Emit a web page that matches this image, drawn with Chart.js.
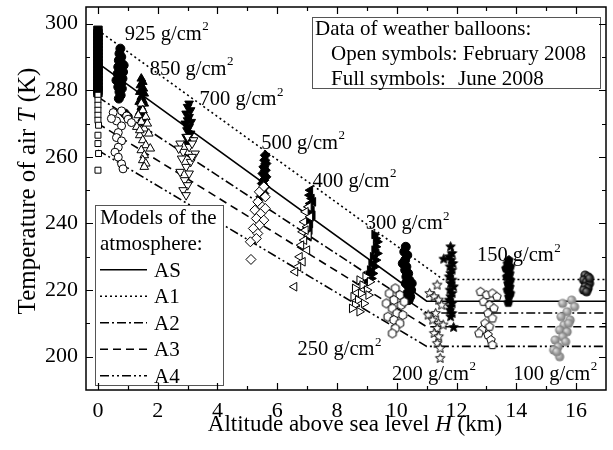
<!DOCTYPE html>
<html>
<head>
<meta charset="utf-8">
<script src="https://cdn.jsdelivr.net/npm/chart.js@4.4.1/dist/chart.umd.min.js"></script>
<style>
  html, body { margin: 0; padding: 0; background: #fff; }
</style>
</head>
<body>
<canvas id="chart" width="613" height="450"></canvas>
<script>
// atmosphere models, vertices [H km, T K]
const modelAS = [[0, 288.15], [11, 216.65], [17, 216.65]];
const modelA1 = [[0, 298], [11.55, 223.2], [17, 223.2]];
const modelA2 = [[0, 278], [11, 213.1], [17, 213.1]];
const modelA3 = [[0, 270], [11, 209], [17, 209]];
const modelA4 = [[0, 262], [11, 203.1], [17, 203.1]];

// balloon soundings [H km, T K]; feb = open symbols, jun = full symbols
const febSurface = [[0, 278.5], [0, 277], [0, 275.5], [0, 274], [0, 272.5], [0, 271], [0.02, 269.5], [0, 266.5], [0, 264], [0.02, 261], [0, 256]];
const junSurface = [[0, 298], [0, 297], [0, 296], [0, 295], [0, 294], [0, 293], [0, 292], [0, 291], [0, 290], [0, 289], [0, 288], [0, 287], [0, 286], [0, 285], [0, 284], [0, 283], [0, 282], [0, 281], [0, 280], [0, 279.3]];
const feb925 = [[0.51, 273.3], [0.79, 273.8], [0.96, 272.3], [0.62, 270.8], [0.79, 269.3], [0.68, 267.3], [0.62, 265.8], [0.79, 264.8], [0.68, 262.9], [0.57, 261.4], [0.68, 259.9], [0.79, 257.9], [0.84, 256.4], [1.01, 271.3], [1.12, 270.3], [0.45, 271.5]];
const jun925 = [[0.75, 292.5], [0.72, 291], [0.78, 290], [0.7, 289], [0.8, 288], [0.68, 287], [0.76, 286.5], [0.84, 285.5], [0.66, 285], [0.74, 284], [0.82, 283.5], [0.7, 282.5], [0.78, 282], [0.68, 281], [0.8, 280.5], [0.72, 279.5], [0.76, 278.5], [0.7, 277.5], [0.86, 287.5], [0.62, 283], [0.9, 273], [1.0, 272]];
const feb850 = [[1.45, 276], [1.5, 274], [1.35, 272.5], [1.6, 272], [1.45, 270.5], [1.3, 269], [1.55, 268.5], [1.7, 267], [1.4, 266.5], [1.5, 265], [1.6, 263.5], [1.75, 262.5], [1.45, 262], [1.55, 260.5], [1.5, 259], [1.6, 258], [1.55, 257], [1.4, 268], [1.65, 270]];
const jun850 = [[1.45, 283.5], [1.5, 282.5], [1.42, 281.5], [1.52, 280.5], [1.4, 279.5], [1.55, 279], [1.45, 278], [1.5, 277], [1.38, 276.5], [1.55, 276], [1.45, 275], [1.5, 274], [1.4, 273.5], [1.55, 272.5], [1.48, 271.5]];
const feb700 = [[3.0, 266], [3.2, 265], [2.75, 264], [3.05, 263], [2.85, 261.5], [3.25, 261], [2.8, 259.5], [3.1, 258.5], [2.95, 257], [2.75, 255.5], [3.05, 255], [2.9, 253], [3.0, 251.5], [2.85, 250], [2.95, 248.5], [3.15, 260], [2.7, 262.5], [3.15, 264]];
const jun700 = [[3.05, 276], [3.0, 275], [3.1, 274], [2.95, 273], [3.05, 272], [3.0, 271], [3.12, 270.5], [2.92, 270], [3.05, 269], [2.98, 268], [3.1, 267], [2.95, 266], [3.05, 265], [3.0, 264]];
const feb500 = [[5.55, 251], [5.4, 249.5], [5.6, 248], [5.35, 246.5], [5.5, 245], [5.25, 244], [5.45, 243], [5.3, 241.5], [5.55, 241], [5.4, 239.5], [5.2, 238.5], [5.35, 237], [5.3, 235.5], [5.1, 234.5], [5.12, 229.2], [5.6, 244.5]];
const jun500 = [[5.6, 260.5], [5.58, 259], [5.62, 258], [5.55, 257], [5.6, 256], [5.52, 255], [5.62, 254], [5.55, 253], [5.5, 252], [5.58, 251], [5.48, 250], [5.55, 249], [5.45, 248]];
const feb400 = [[7.05, 245], [6.95, 243.5], [7.1, 242], [6.9, 240.5], [7.0, 239], [6.85, 237.5], [7.05, 236.5], [6.9, 235], [6.8, 233.5], [7.0, 232], [6.75, 230], [6.85, 228.5], [6.7, 227], [6.6, 225.5], [6.57, 221], [6.95, 238]];
const jun400 = [[7.1, 250], [7.08, 248.5], [7.15, 247.5], [7.1, 246], [7.05, 245], [7.15, 244], [7.08, 243], [7.12, 242], [7.05, 241], [7.1, 240], [7.02, 239], [7.08, 238], [7.0, 237], [7.05, 236], [7.2, 246.5], [7.18, 242.5], [7.0, 240.5]];
const feb300 = [[8.95, 224], [8.75, 223], [9.1, 222.5], [8.85, 221.5], [8.6, 220.5], [9.0, 220], [8.8, 219], [8.55, 218], [8.7, 217], [8.9, 216], [8.6, 215.5], [8.5, 214.5], [9.05, 218.5], [8.75, 213.5]];
const jun300 = [[9.25, 236.7], [9.35, 234.5], [9.3, 233], [9.25, 232], [9.35, 231], [9.2, 230], [9.3, 229], [9.15, 228], [9.25, 227], [9.1, 226], [9.2, 225], [9.05, 224.5], [9.15, 223.5], [9.0, 223], [9.3, 235.5]];
const feb250 = [[9.95, 220.5], [9.75, 219], [10.1, 218.5], [9.9, 217], [9.65, 216], [10.15, 215.5], [9.85, 214.5], [10.0, 213], [9.7, 212], [10.2, 212.5], [9.9, 211], [10.1, 210], [9.95, 208.5], [9.85, 207], [10.25, 216.5]];
const jun250 = [[10.3, 233], [10.25, 231.5], [10.35, 230.5], [10.28, 229], [10.2, 228], [10.32, 227], [10.28, 226], [10.38, 225], [10.32, 224], [10.42, 223], [10.3, 222], [10.4, 221], [10.48, 220], [10.35, 219], [10.45, 218], [10.4, 217], [10.5, 222]];
const feb200 = [[11.35, 221.5], [11.1, 219], [11.25, 218], [11.4, 217], [11.5, 215.5], [11.3, 213], [11.05, 212.5], [11.2, 211], [11.4, 210], [11.35, 208.5], [11.55, 209.5], [11.25, 207], [11.4, 206], [11.35, 204], [11.45, 202.5], [11.45, 199.5]];
const jun200 = [[11.8, 233], [11.85, 231], [11.75, 230], [11.82, 229], [11.88, 228], [11.78, 227], [11.85, 226], [11.8, 225], [11.75, 224], [11.85, 223], [11.8, 222], [11.9, 221], [11.78, 220], [11.85, 219], [11.8, 218], [11.75, 217], [11.85, 216], [11.8, 215], [11.78, 214], [11.85, 213], [11.8, 212], [11.57, 229.3], [11.9, 208.8]];
const feb150 = [[12.8, 219.5], [13.0, 218.5], [13.2, 219], [13.35, 218], [12.9, 216.5], [13.1, 215.5], [13.25, 214.5], [13.05, 213], [13.2, 211.5], [12.95, 210], [13.1, 209], [12.85, 208], [13.05, 206.5], [13.15, 205], [13.2, 203.5], [12.75, 207]];
const jun150 = [[13.75, 229], [13.7, 228], [13.8, 227], [13.72, 226], [13.78, 225], [13.68, 224], [13.8, 223], [13.72, 222], [13.78, 221], [13.7, 220], [13.8, 219], [13.75, 218], [13.65, 226.5], [13.73, 216.2]];
const feb100 = [[15.85, 217], [15.55, 216], [15.95, 215], [15.7, 213.5], [15.5, 212], [15.8, 211], [15.6, 209.5], [15.45, 208], [15.7, 207.5], [15.55, 206], [15.3, 205], [15.65, 204.5], [15.4, 203], [15.25, 202], [15.45, 200], [15.35, 201.5], [15.75, 210]];
const jun100 = [[16.3, 224.5], [16.4, 224], [16.25, 223], [16.35, 222.5], [16.45, 222], [16.3, 221], [16.4, 220.5], [16.25, 220], [16.35, 219.5], [16.45, 223.5]];

// pressure level labels and where they sit (H km, T K at text middle)
const levelNames = ['925', '850', '700', '500', '400', '300', '150', '250', '200', '100'];
const levelLabelH = [0.9, 1.73, 3.4, 5.46, 7.18, 8.96, 12.68, 6.68, 9.84, 13.9];
const levelLabelT = [297.3, 286.8, 277.6, 264.6, 253.2, 240.3, 230.9, 202.5, 195.2, 195.2];

const modelNames = ['AS', 'A1', 'A2', 'A3', 'A4'];
const modelDash = [[], [2, 3], [9, 3, 2, 3], [8, 5], [9, 3, 2, 3, 2, 3]];

const FONT = '"Liberation Serif", "Times New Roman", serif';

function pts(arr) {
  return arr.map(p => ({ x: p[0], y: p[1] }));
}

function polyImage(n, r, filled, rot) {
  const c = document.createElement('canvas');
  const s = Math.ceil(r * 2 + 3);
  c.width = c.height = s;
  const g = c.getContext('2d');
  g.translate(s / 2, s / 2);
  g.beginPath();
  for (let i = 0; i < n; i++) {
    const a = rot + i * 2 * Math.PI / n - Math.PI / 2;
    g.lineTo(r * Math.cos(a), r * Math.sin(a));
  }
  g.closePath();
  g.fillStyle = filled ? '#000' : '#fff';
  g.fill();
  g.lineWidth = 1;
  g.strokeStyle = '#000';
  g.stroke();
  return c;
}

function starImage(r, filled) {
  const c = document.createElement('canvas');
  const s = Math.ceil(r * 2 + 3);
  c.width = c.height = s;
  const g = c.getContext('2d');
  g.translate(s / 2, s / 2);
  g.beginPath();
  for (let i = 0; i < 10; i++) {
    const rr = i % 2 ? r * 0.45 : r;
    const a = i * Math.PI / 5 - Math.PI / 2;
    g.lineTo(rr * Math.cos(a), rr * Math.sin(a));
  }
  g.closePath();
  g.fillStyle = filled ? '#000' : '#fff';
  g.fill();
  g.lineWidth = 1;
  g.strokeStyle = '#000';
  g.stroke();
  return c;
}

function sphereImage(r, light, base, dark) {
  const c = document.createElement('canvas');
  const s = Math.ceil(r * 2 + 2);
  c.width = c.height = s;
  const g = c.getContext('2d');
  const m = s / 2;
  const grad = g.createRadialGradient(m - r * 0.35, m - r * 0.35, 0.5, m, m, r);
  grad.addColorStop(0, light);
  grad.addColorStop(0.6, base);
  grad.addColorStop(1, dark);
  g.beginPath();
  g.arc(m, m, r, 0, Math.PI * 2);
  g.fillStyle = grad;
  g.fill();
  return c;
}

function pointSet(data, style, filled, radius, rotation) {
  return {
    data: pts(data),
    pointStyle: style,
    pointRadius: radius,
    pointRotation: rotation || 0,
    pointBackgroundColor: filled ? '#000' : '#fff',
    pointBorderColor: '#000',
    pointBorderWidth: 1,
    showLine: false,
    order: 0,
  };
}

const models = [modelAS, modelA1, modelA2, modelA3, modelA4];
const lineSets = models.map((m, i) => ({
  label: modelNames[i],
  data: pts(m),
  showLine: true,
  borderColor: '#000',
  borderWidth: 1.6,
  borderDash: modelDash[i],
  pointRadius: 0,
  fill: false,
  order: 1,
}));

const hexOpen = polyImage(6, 4.5, false, 0);
const pentOpen = polyImage(5, 4.5, false, 0);
const pentFull = polyImage(5, 4.5, true, 0);
const starOpen = starImage(5, false);
const starFull = starImage(5, true);
const sphereGray = sphereImage(4.6, '#dddddd', '#9a9a9a', '#7a7a7a');
const sphereDark = sphereImage(4.6, '#888', '#222', '#000');

const pointSets = [
  pointSet(febSurface, 'rect', false, 4.2),
  pointSet(junSurface, 'rect', true, 6),
  pointSet(feb925, 'circle', false, 4),
  pointSet(jun925, 'circle', true, 4.5),
  pointSet(feb850, 'triangle', false, 5),
  pointSet(jun850, 'triangle', true, 5),
  pointSet(feb700, 'triangle', false, 5, 180),
  pointSet(jun700, 'triangle', true, 5, 180),
  pointSet(feb500, 'rectRot', false, 5),
  pointSet(jun500, 'rectRot', true, 5),
  pointSet(feb400, 'triangle', false, 5, 270),
  pointSet(jun400, 'triangle', true, 5, 270),
  pointSet(feb300, 'triangle', false, 5, 90),
  pointSet(jun300, 'triangle', true, 5, 90),
  pointSet(feb250, hexOpen, false, 5),
  pointSet(jun250, 'circle', true, 4.5),
  pointSet(feb200, starOpen, false, 5),
  pointSet(jun200, starFull, true, 5),
  pointSet(feb150, pentOpen, false, 5),
  pointSet(jun150, pentFull, true, 5),
  pointSet(feb100, sphereGray, false, 5),
  pointSet(jun100, sphereDark, true, 5),
];

function drawSup(ctx, text, x, y, size) {
  ctx.font = `${size}px ${FONT}`;
  ctx.fillText(text, x, y);
  const w = ctx.measureText(text).width;
  ctx.font = `${Math.round(size * 0.62)}px ${FONT}`;
  ctx.fillText('2', x + w + 0.5, y - size * 0.45);
}

function drawParts(ctx, parts, x, y, size) {
  let cx = x;
  parts.forEach(p => {
    ctx.font = `${p.italic ? 'italic ' : ''}${size}px ${FONT}`;
    ctx.fillText(p.t, cx, y);
    cx += ctx.measureText(p.t).width;
  });
  return cx - x;
}

function partsWidth(ctx, parts, size) {
  let w = 0;
  parts.forEach(p => {
    ctx.font = `${p.italic ? 'italic ' : ''}${size}px ${FONT}`;
    w += ctx.measureText(p.t).width;
  });
  return w;
}

const decor = {
  id: 'decor',
  afterDatasetsDraw(chart) {
    const { ctx, scales: { x, y } } = chart;
    ctx.save();
    ctx.fillStyle = '#000';
    ctx.textBaseline = 'alphabetic';
    ctx.textAlign = 'left';
    levelNames.forEach((name, i) => {
      const px = x.getPixelForValue(levelLabelH[i]);
      const py = y.getPixelForValue(levelLabelT[i]) + 7;
      drawSup(ctx, name + ' g/cm', px, py, 20.5);
    });

    // balloon data note
    ctx.fillStyle = '#fff';
    ctx.fillRect(312.5, 17.5, 288, 71);
    ctx.strokeStyle = '#555';
    ctx.lineWidth = 1;
    ctx.strokeRect(312.5, 17.5, 288, 71);
    ctx.fillStyle = '#000';
    ctx.font = `21px ${FONT}`;
    ctx.fillText('Data of weather balloons:', 315, 35);
    ctx.fillText('Open symbols: February 2008', 331, 60);
    ctx.fillText('Full symbols:', 331, 85);
    ctx.fillText('June 2008', 458, 85);

    // model legend
    ctx.fillStyle = '#fff';
    ctx.fillRect(95.5, 205.5, 128, 180);
    ctx.strokeStyle = '#555';
    ctx.strokeRect(95.5, 205.5, 128, 180);
    ctx.fillStyle = '#000';
    ctx.fillText('Models of the', 100, 224);
    ctx.fillText('atmosphere:', 100, 250);
    modelNames.forEach((name, i) => {
      const base = 276.7 + i * 26.5;
      ctx.fillText(name, 154, base);
      ctx.save();
      ctx.strokeStyle = '#000';
      ctx.lineWidth = 1.6;
      ctx.setLineDash(modelDash[i]);
      ctx.beginPath();
      ctx.moveTo(100, base - 7);
      ctx.lineTo(147, base - 7);
      ctx.stroke();
      ctx.restore();
    });
    ctx.restore();
  },
  afterDraw(chart) {
    const { ctx, chartArea: a, scales: { x, y } } = chart;
    ctx.save();
    ctx.strokeStyle = '#000';
    ctx.lineWidth = 1.5;
    ctx.strokeRect(a.left, a.top, a.right - a.left, a.bottom - a.top);
    ctx.lineWidth = 1.2;
    ctx.beginPath();
    x.ticks.forEach(t => {
      if (!Number.isInteger(t.value) || t.value <= x.min || t.value >= x.max) return;
      const len = t.value % 2 === 0 ? 7 : 4;
      const px = Math.round(x.getPixelForValue(t.value)) + 0.5;
      ctx.moveTo(px, a.bottom); ctx.lineTo(px, a.bottom - len);
      ctx.moveTo(px, a.top); ctx.lineTo(px, a.top + len);
    });
    y.ticks.forEach(t => {
      if (t.value % 10 !== 0 || t.value <= y.min || t.value >= y.max) return;
      const len = t.value % 20 === 0 ? 7 : 4;
      const py = Math.round(y.getPixelForValue(t.value)) + 0.5;
      ctx.moveTo(a.left, py); ctx.lineTo(a.left + len, py);
      ctx.moveTo(a.right, py); ctx.lineTo(a.right - len, py);
    });
    ctx.stroke();

    // axis titles
    ctx.fillStyle = '#000';
    ctx.textBaseline = 'alphabetic';
    ctx.textAlign = 'left';
    const xt = [{ t: 'Altitude above sea level ' }, { t: 'H', italic: true }, { t: ' (km)' }];
    const xw = partsWidth(ctx, xt, 23);
    drawParts(ctx, xt, 355 - xw / 2, 431, 23);
    const yt = [{ t: 'Temperature of air ' }, { t: 'T', italic: true }, { t: ' (K)' }];
    const yw = partsWidth(ctx, yt, 25);
    ctx.translate(35, 191);
    ctx.rotate(-Math.PI / 2);
    drawParts(ctx, yt, -yw / 2, 0, 25);
    ctx.restore();
  },
};

new Chart(document.getElementById('chart'), {
  type: 'scatter',
  data: { datasets: [...lineSets, ...pointSets] },
  options: {
    responsive: false,
    animation: false,
    events: [],
    layout: { padding: { top: 3, right: 6, left: 0, bottom: 0 } },
    plugins: { legend: { display: false }, tooltip: { enabled: false } },
    scales: {
      x: {
        type: 'linear',
        min: -0.4,
        max: 17,
        grid: { display: false, drawTicks: false },
        border: { display: false },
        ticks: {
          stepSize: 1,
          includeBounds: false,
          autoSkip: false,
          maxRotation: 0,
          padding: 8,
          color: '#000',
          font: { family: FONT, size: 22 },
          callback: v => (Number.isInteger(v) && v % 2 === 0 && v >= 0 && v <= 16) ? String(v) : '',
        },
        afterFit: s => { s.height = 60; s.paddingLeft = 0; s.paddingRight = 0; },
      },
      y: {
        type: 'linear',
        min: 190,
        max: 305,
        grid: { display: false, drawTicks: false },
        border: { display: false },
        ticks: {
          stepSize: 10,
          includeBounds: false,
          autoSkip: false,
          padding: 8,
          color: '#000',
          font: { family: FONT, size: 22 },
          callback: v => (v % 20 === 0) ? String(v) : '',
        },
        afterFit: s => { s.width = 86; s.paddingTop = 0; s.paddingBottom = 0; },
      },
    },
  },
  plugins: [decor],
});
</script>
</body>
</html>
